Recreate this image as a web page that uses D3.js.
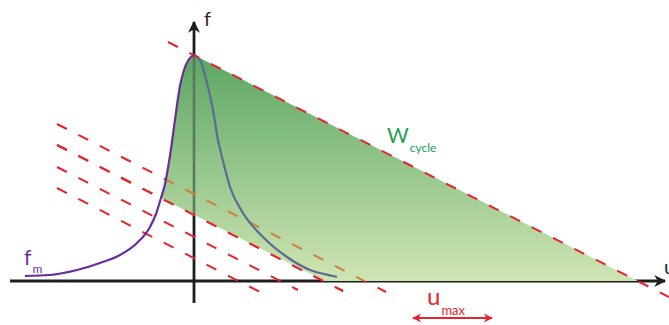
<!DOCTYPE html>
<html>
<head>
<meta charset="utf-8">
<script src="https://cdn.jsdelivr.net/npm/d3@7/dist/d3.min.js"></script>
<style>
  html, body { margin: 0; padding: 0; background: #fff; }
  svg { display: block; }
  text { font-family: Lato, "Open Sans", sans-serif; }
</style>
</head>
<body>
<svg id="chart" width="669" height="325"></svg>
<script>
// Rising branch of the f_m curve (u, f)
const fmRising = [
  [-1.69, 0.05], [-1.44, 0.06], [-1.17, 0.11], [-0.94, 0.18], [-0.74, 0.26],
  [-0.57, 0.38], [-0.44, 0.54], [-0.38, 0.67], [-0.33, 0.83], [-0.29, 0.97],
  [-0.26, 1.13], [-0.23, 1.32], [-0.20, 1.54], [-0.17, 1.76], [-0.14, 1.95],
  [-0.10, 2.11], [-0.05, 2.22], [0, 2.26]
];
// Falling branch of the f_m curve (u, f)
const fmFalling = [
  [0, 2.26], [0.06, 2.21], [0.13, 1.98], [0.19, 1.71], [0.24, 1.41],
  [0.28, 1.24], [0.36, 0.94], [0.49, 0.68], [0.69, 0.44], [0.93, 0.24],
  [1.16, 0.11], [1.39, 0.05], [1.43, 0.04]
];
// Upper load line through the peak
const upperLine = [[-0.26, 2.39], [4.75, -0.16]];
// Family of parallel load lines
const loadLines = [
  [[-1.37, 1.57], [1.92, -0.11]],
  [[-1.37, 1.36], [1.49, -0.10]],
  [[-1.37, 1.14], [1.04, -0.09]],
  [[-1.37, 0.93], [0.66, -0.11]]
];
// Cycle area: starts where the second load line meets f_m
const cycleStart = [-0.33, 0.83];
const cycleUpperAxis = [4.44, 0];
const cycleLowerAxis = [1.30, 0];
// Span of the u_max arrow
const umaxSpan = [2.19, 2.98];

const uDomain = [-1.84, 4.71];
const fDomain = [-0.44, 2.81];

const svg = d3.select("#chart");
const x = d3.scaleLinear().domain(uDomain).range([10, 665]);
const y = d3.scaleLinear().domain(fDomain).range([325, 0]);

const red = "#e8232b";
const purple = "#6a2d9c";
const dash = "11,13";

const line = d3.line().x(d => x(d[0])).y(d => y(d[1]));
const smooth = d3.line().x(d => x(d[0])).y(d => y(d[1])).curve(d3.curveMonotoneX);

const defs = svg.append("defs");
const grad = defs.append("linearGradient")
  .attr("id", "cycleFill").attr("gradientUnits", "userSpaceOnUse")
  .attr("x1", 0).attr("x2", 0).attr("y1", y(2.26)).attr("y2", y(0));
grad.append("stop").attr("offset", "0%").attr("stop-color", "#5ba663");
grad.append("stop").attr("offset", "100%").attr("stop-color", "#cfe5b3");

// Closed outline of the cycle work area
const risingPart = fmRising.filter(d => d[1] >= cycleStart[1]);
const cyclePath = smooth(risingPart) +
  "L" + x(cycleUpperAxis[0]) + "," + y(cycleUpperAxis[1]) +
  "L" + x(cycleLowerAxis[0]) + "," + y(cycleLowerAxis[1]) + "Z";

defs.append("clipPath").attr("id", "cycleClip")
  .append("path").attr("d", cyclePath);

// Arrowheads
function arrowHead(id, color, w, h) {
  defs.append("marker").attr("id", id)
    .attr("viewBox", "0 0 10 10").attr("refX", 9).attr("refY", 5)
    .attr("markerUnits", "userSpaceOnUse")
    .attr("markerWidth", w).attr("markerHeight", h)
    .attr("orient", "auto-start-reverse")
    .append("path").attr("d", "M0,0 L10,5 L0,10 L3,5 Z").attr("fill", color);
}
arrowHead("axisArrow", "#1e1e1e", 14, 12);
arrowHead("redArrow", red, 10, 9);

// Axes
const axes = svg.append("g");
axes.append("line")
  .attr("x1", x(uDomain[0])).attr("y1", y(0))
  .attr("x2", x(uDomain[1])).attr("y2", y(0))
  .attr("stroke", "#1e1e1e").attr("stroke-width", 2.8)
  .attr("marker-end", "url(#axisArrow)");
axes.append("line")
  .attr("x1", x(0)).attr("y1", y(-0.22))
  .attr("x2", x(0)).attr("y2", y(2.59))
  .attr("stroke", "#1e1e1e").attr("stroke-width", 2.8)
  .attr("marker-end", "url(#axisArrow)");

// Load lines
svg.append("g").selectAll("path").data(loadLines).join("path")
  .attr("d", d => line(d))
  .attr("fill", "none").attr("stroke", red)
  .attr("stroke-width", 2).attr("stroke-dasharray", dash);

// Falling branch of f_m
svg.append("path").attr("d", smooth(fmFalling))
  .attr("fill", "none").attr("stroke", purple).attr("stroke-width", 2.2);

// Cycle work area
svg.append("path").attr("d", cyclePath).attr("fill", "url(#cycleFill)");

// Elements seen through the cycle area
const inside = svg.append("g").attr("clip-path", "url(#cycleClip)");
inside.append("line")
  .attr("x1", x(0)).attr("y1", y(-0.22))
  .attr("x2", x(0)).attr("y2", y(2.59))
  .attr("stroke", "#587a62").attr("stroke-width", 2.6);
inside.append("path").attr("d", line(loadLines[0]))
  .attr("fill", "none").attr("stroke", "#cc8236")
  .attr("stroke-width", 2).attr("stroke-dasharray", dash);
inside.append("path").attr("d", smooth(fmFalling))
  .attr("fill", "none").attr("stroke", "#5b6b96").attr("stroke-width", 2.2);

// Edges of the cycle area
svg.append("path").attr("d", line(loadLines[1]))
  .attr("fill", "none").attr("stroke", red)
  .attr("stroke-width", 2).attr("stroke-dasharray", dash);
svg.append("path").attr("d", line(upperLine))
  .attr("fill", "none").attr("stroke", red)
  .attr("stroke-width", 2).attr("stroke-dasharray", dash);

// Rising branch of f_m
svg.append("path").attr("d", smooth(fmRising))
  .attr("fill", "none").attr("stroke", purple).attr("stroke-width", 2.2);

// u_max span arrow
svg.append("line")
  .attr("x1", x(umaxSpan[0])).attr("y1", y(-0.37))
  .attr("x2", x(umaxSpan[1])).attr("y2", y(-0.37))
  .attr("stroke", red).attr("stroke-width", 2)
  .attr("marker-start", "url(#redArrow)").attr("marker-end", "url(#redArrow)");

// Labels
function label(tx, ty, main, sub, color, size, subSize, dy) {
  const t = svg.append("text").attr("x", tx).attr("y", ty)
    .attr("fill", color).attr("font-size", size);
  t.append("tspan").text(main);
  if (sub) {
    t.append("tspan").attr("dy", dy).attr("font-size", subSize).attr("dx", 1).text(sub);
  }
}
label(x(0.10), y(2.55), "f", null, "#2a2a2a", 20);
label(x(4.70), y(0.07), "u", null, "#2a2a2a", 20);
label(x(-1.70), y(0.16), "f", "m", purple, 21, 12, 8);
label(x(1.93), y(1.38), "W", "cycle", "#21a050", 21, 12, 9);
label(x(2.33), y(-0.24), "u", "max", red, 24, 13, 10);
</script>
</body>
</html>
